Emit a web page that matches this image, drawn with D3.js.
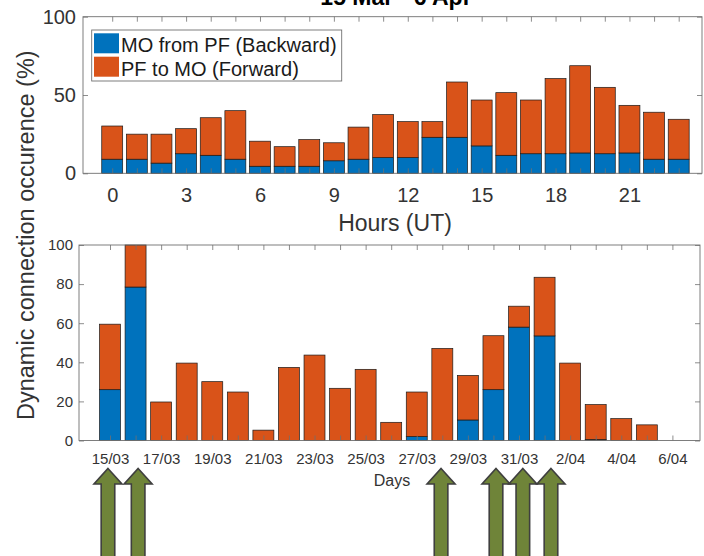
<!DOCTYPE html>
<html>
<head>
<meta charset="utf-8">
<script src="https://cdn.jsdelivr.net/npm/d3@7/dist/d3.min.js"></script>
<style>
  html, body { margin: 0; padding: 0; background: #fff; }
  svg { display: block; font-family: "Liberation Sans", Arial, Helvetica, sans-serif; }
</style>
</head>
<body>
<svg id="chart" width="704" height="556"></svg>
<script>
// ---------------- data ----------------
const hours = d3.range(24);
const hourTickLabels = [0, 3, 6, 9, 12, 15, 18, 21];
// MO from PF (Backward), per UT hour
const hourBackward = [9, 9, 6.5, 12.5, 11.5, 9, 4.5, 4.5, 4.5, 8, 9, 10, 10, 23, 23, 17.5, 11.5, 12.5, 12.5, 13, 12.5, 13, 9, 9];
// PF to MO (Forward), per UT hour
const hourForward = [21.2, 16, 18.5, 16, 24, 31, 16, 12.5, 17, 11.5, 20.5, 27.5, 23, 10, 35.3, 29.3, 40, 34.3, 48, 55.7, 42.4, 30.4, 30, 25.5];

const days = ["15/03","16/03","17/03","18/03","19/03","20/03","21/03","22/03","23/03","24/03","25/03","26/03",
              "27/03","28/03","29/03","30/03","31/03","1/04","2/04","3/04","4/04","5/04","6/04"];
const dayBackward = [26, 78.5, 0, 0, 0, 0, 0, 0, 0, 0, 0, 0, 2, 0, 10.5, 26, 58, 53.5, 0, 0.5, 0, 0, 0];
const dayForward  = [33.5, 21.5, 19.7, 39.6, 30.1, 24.8, 5.3, 37.4, 43.7, 26.7, 36.4, 9.3, 22.8, 47.1, 22.8, 27.6, 10.7, 30, 39.6, 17.9, 11.2, 8, 0];

const seriesNames = ["MO from PF (Backward)", "PF to MO (Forward)"];
const seriesColors = ["#0072BD", "#D95319"];
// highlighted days (arrow annotations, day index)
const arrowDays = [-0.08, 1.1, 12.95, 15.1, 16.15, 17.25];

// ---------------- drawing ----------------
const svg = d3.select("#chart");
const textColor = "#333";
const axisColor = "#707070";

function stack(back, fwd) {
  return back.map((b, i) => ({ i, b, f: fwd[i] }));
}

function styleAxis(g, fontSize) {
  g.select(".domain").remove();
  g.selectAll(".tick line").attr("stroke", axisColor).attr("stroke-width", 0.8);
  g.selectAll(".tick text").attr("fill", textColor).style("font-size", fontSize + "px")
    .style("font-family", "'Liberation Sans', Arial, sans-serif");
}

function drawPanel(opt) {
  const { left, right, top, bottom, xDomain, yTicks, xTickValues, xFormat, data, barFrac,
          xFont, yFont, xPad, yPad } = opt;
  const x = d3.scaleLinear().domain(xDomain).range([left, right]);
  const y = d3.scaleLinear().domain([0, 100]).range([bottom, top]);
  const step = x(1) - x(0);
  const bw = step * barFrac;
  const g = svg.append("g");

  // bars
  const bars = g.append("g");
  data.forEach(d => {
    if (d.b > 0) {
      bars.append("rect").attr("x", x(d.i) - bw / 2).attr("width", bw)
        .attr("y", y(d.b)).attr("height", y(0) - y(d.b))
        .attr("fill", seriesColors[0]).attr("stroke", "#1a1a1a").attr("stroke-width", 0.7);
    }
    if (d.f > 0) {
      bars.append("rect").attr("x", x(d.i) - bw / 2).attr("width", bw)
        .attr("y", y(d.b + d.f)).attr("height", y(d.b) - y(d.b + d.f))
        .attr("fill", seriesColors[1]).attr("stroke", "#1a1a1a").attr("stroke-width", 0.7);
    }
  });

  // axes (ticks inward)
  const gb = g.append("g").attr("transform", `translate(0,${bottom})`)
    .call(d3.axisBottom(x).tickValues(xTickValues).tickSizeInner(-5).tickSizeOuter(0)
      .tickPadding(xPad).tickFormat(xFormat));
  styleAxis(gb, xFont);
  const gt = g.append("g").attr("transform", `translate(0,${top})`)
    .call(d3.axisTop(x).tickValues(xTickValues).tickSizeInner(-5).tickSizeOuter(0).tickFormat(""));
  styleAxis(gt, xFont);
  const gl = g.append("g").attr("transform", `translate(${left},0)`)
    .call(d3.axisLeft(y).tickValues(yTicks).tickSizeInner(-5).tickSizeOuter(0).tickPadding(yPad));
  styleAxis(gl, yFont);
  const gr = g.append("g").attr("transform", `translate(${right},0)`)
    .call(d3.axisRight(y).tickValues(yTicks).tickSizeInner(-5).tickSizeOuter(0).tickFormat(""));
  styleAxis(gr, yFont);

  // box
  g.append("rect").attr("x", left).attr("y", top).attr("width", right - left).attr("height", bottom - top)
    .attr("fill", "none").attr("stroke", axisColor).attr("stroke-width", 0.9);
  return { x, y };
}

// top panel: by hour
const topP = drawPanel({
  left: 83, right: 702, top: 16.7, bottom: 173.3,
  xDomain: [-1.186, 23.946], yTicks: [0, 50, 100],
  xTickValues: hours, xFormat: h => hourTickLabels.includes(h) ? String(h) : "",
  data: stack(hourBackward, hourForward), barFrac: 0.85,
  xFont: 20, yFont: 20, xPad: 15, yPad: 7
});

// bottom panel: by day
const botP = drawPanel({
  left: 79, right: 700, top: 245, bottom: 440.5,
  xDomain: [-1.213, 23.08], yTicks: [0, 20, 40, 60, 80, 100],
  xTickValues: d3.range(days.length), xFormat: i => (i % 2 === 0 ? days[i] : ""),
  data: stack(dayBackward, dayForward), barFrac: 0.82,
  xFont: 15, yFont: 15, xPad: 13, yPad: 6
});

// title (partially cut off at the top)
svg.append("text").attr("x", 396).attr("y", 5).attr("text-anchor", "middle")
  .attr("fill", "#000").style("font-weight", "bold").style("font-size", "23px")
  .text("15 Mar - 6 Apr");

// axis labels
svg.append("text").attr("x", 395).attr("y", 231).attr("text-anchor", "middle")
  .attr("fill", textColor).style("font-size", "23px").text("Hours (UT)");
svg.append("text").attr("x", 392).attr("y", 486).attr("text-anchor", "middle")
  .attr("fill", textColor).style("font-size", "16px").text("Days");
svg.append("text").attr("transform", "translate(33.5,420) rotate(-90)").attr("text-anchor", "start")
  .attr("fill", textColor).style("font-size", "23.5px").text("Dynamic connection occurence (%)");

// legend
const lg = svg.append("g");
lg.append("rect").attr("x", 91.7).attr("y", 30).attr("width", 250).attr("height", 51)
  .attr("fill", "#fff").attr("stroke", axisColor).attr("stroke-width", 0.9);
seriesNames.forEach((name, k) => {
  lg.append("rect").attr("x", 94).attr("y", 33.3 + k * 23.4).attr("width", 25).attr("height", 20)
    .attr("fill", seriesColors[k]);
  lg.append("text").attr("x", 121).attr("y", 51.5 + k * 24.3).attr("fill", "#1a1a1a")
    .style("font-size", "20px").text(name);
});

// arrows below the day axis
const ax = botP.x;
const apex = 468.5, headBase = 484, headHalf = 14, shaftHalf = 6.8, tail = 560;
svg.append("g").selectAll("path").data(arrowDays).join("path")
  .attr("d", d => {
    const c = ax(d);
    return `M${c},${apex} L${c + headHalf},${headBase} L${c + shaftHalf},${headBase} L${c + shaftHalf},${tail}` +
           ` L${c - shaftHalf},${tail} L${c - shaftHalf},${headBase} L${c - headHalf},${headBase} Z`;
  })
  .attr("fill", "#6F8439").attr("stroke", "#3f3f3f").attr("stroke-width", 1.6).attr("stroke-linejoin", "miter");
</script>
</body>
</html>
